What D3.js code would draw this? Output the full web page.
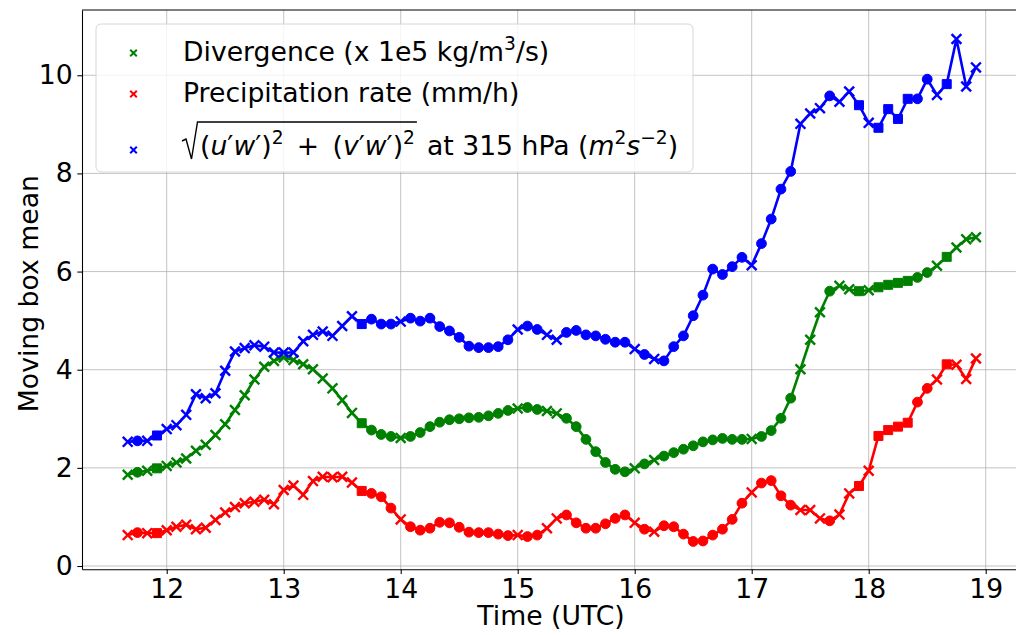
<!DOCTYPE html>
<html>
<head>
<meta charset="utf-8">
<script src="https://cdn.jsdelivr.net/npm/d3@7"></script>
<style>
  html, body { margin: 0; padding: 0; background: #fff; }
  svg { display: block; font-family: "DejaVu Sans", sans-serif; }
</style>
</head>
<body>
<svg id="chart" width="1016" height="635"></svg>
<script>
// ---------------- data ----------------
const times = ["11:40","11:45","11:50","11:55","12:00","12:05","12:10","12:15","12:20","12:25","12:30","12:35",
"12:40","12:45","12:50","12:55","13:00","13:05","13:10","13:15","13:20","13:25","13:30","13:35",
"13:40","13:45","13:50","13:55","14:00","14:05","14:10","14:15","14:20","14:25","14:30","14:35",
"14:40","14:45","14:50","14:55","15:00","15:05","15:10","15:15","15:20","15:25","15:30","15:35",
"15:40","15:45","15:50","15:55","16:00","16:05","16:10","16:15","16:20","16:25","16:30","16:35",
"16:40","16:45","16:50","16:55","17:00","17:05","17:10","17:15","17:20","17:25","17:30","17:35",
"17:40","17:45","17:50","17:55","18:00","18:05","18:10","18:15","18:20","18:25","18:30","18:35",
"18:40","18:45","18:50","18:55"];

const markerTypes = ["x","o","x","s","x","x","x","x","x","x","x","x","x","x","x","x","x","x","x","x","x","x","x","x",
"s","o","o","o","x","o","o","o","o","o","o","o","o","o","o","o","x","o","o","x","x",
"o","o","o","o","o","o","o","x","o","x","o","o","o","o","o","o","o","o","o","x",
"o","o","o","o","x","x","x","o","x","x","s","x","s","s","s","s","o","o","x","s","x","x","x"];

const divergence = [1.86,1.91,1.94,1.99,2.04,2.11,2.19,2.35,2.47,2.67,2.89,3.18,3.48,3.80,4.06,4.18,4.25,4.20,4.11,4.01,
3.82,3.62,3.38,3.12,2.91,2.77,2.68,2.64,2.61,2.64,2.72,2.84,2.93,2.98,3.00,3.02,3.03,3.06,3.11,3.17,
3.21,3.23,3.19,3.16,3.11,3.01,2.84,2.58,2.33,2.11,1.97,1.92,1.99,2.08,2.16,2.24,2.31,2.38,2.45,2.53,
2.57,2.60,2.58,2.58,2.59,2.64,2.76,3.01,3.42,4.01,4.61,5.17,5.60,5.71,5.64,5.60,5.62,5.68,5.73,5.77,
5.81,5.88,5.98,6.12,6.30,6.49,6.66,6.70];

const precipitation = [0.63,0.68,0.67,0.67,0.73,0.80,0.84,0.75,0.78,0.94,1.09,1.20,1.28,1.31,1.35,1.26,1.55,1.64,1.45,1.73,
1.82,1.81,1.82,1.70,1.53,1.48,1.41,1.18,0.95,0.80,0.73,0.77,0.89,0.88,0.79,0.69,0.68,0.68,0.65,0.62,
0.63,0.60,0.63,0.77,0.97,1.04,0.88,0.77,0.77,0.86,0.97,1.04,0.88,0.75,0.70,0.82,0.80,0.65,0.50,0.51,
0.63,0.75,0.95,1.28,1.50,1.69,1.74,1.43,1.24,1.14,1.14,0.97,0.92,1.05,1.48,1.63,1.94,2.65,2.77,2.84,
2.92,3.34,3.62,3.80,4.11,4.10,3.81,4.23];

const momentumFlux = [2.53,2.55,2.55,2.66,2.79,2.87,3.08,3.50,3.42,3.52,3.98,4.37,4.44,4.50,4.47,4.35,4.35,4.35,4.58,4.71,
4.78,4.69,4.89,5.09,4.93,5.03,4.93,4.93,4.98,5.05,4.99,5.05,4.88,4.79,4.66,4.48,4.45,4.45,4.47,4.61,
4.82,4.89,4.82,4.71,4.61,4.76,4.80,4.71,4.69,4.62,4.56,4.56,4.42,4.31,4.22,4.18,4.47,4.69,5.10,5.52,
6.05,5.94,6.10,6.29,6.13,6.57,7.07,7.68,8.04,9.01,9.22,9.33,9.58,9.46,9.67,9.39,9.03,8.93,9.31,9.11,
9.52,9.52,9.92,9.60,9.82,10.74,9.77,10.16];

const xTicks = [12,13,14,15,16,17,18,19];
const yTicks = [0,2,4,6,8,10];
const seriesColors = ["green","red","blue"];

// ---------------- layout ----------------
const W = 1016, H = 635;
const margin = {left: 82, top: 10, right: -4, bottom: 65.7};
const pw = W - margin.left - margin.right;
const ph = H - margin.top - margin.bottom;
const FS = 26.67;

const svg = d3.select("#chart");
const hours = times.map(t => { const [h, m] = t.split(":").map(Number); return h + m / 60; });

const x = d3.scaleLinear().domain([11.276, 11.276 + pw / 117]).range([margin.left, margin.left + pw]);
const y = d3.scaleLinear().domain([-0.067, 11.33]).range([margin.top + ph, margin.top]);

// grid
const grid = svg.append("g");
grid.selectAll("line.gx").data(xTicks).join("line")
  .attr("x1", d => x(d)).attr("x2", d => x(d))
  .attr("y1", margin.top).attr("y2", margin.top + ph)
  .attr("stroke", "#b0b0b0").attr("stroke-width", 1).attr("opacity", 0.75);
grid.selectAll("line.gy").data(yTicks).join("line")
  .attr("x1", margin.left).attr("x2", margin.left + pw)
  .attr("y1", d => y(d)).attr("y2", d => y(d))
  .attr("stroke", "#b0b0b0").attr("stroke-width", 1).attr("opacity", 0.75);

// axes
const xAxis = d3.axisBottom(x).tickValues(xTicks).tickFormat(d3.format("d")).tickSizeInner(4.7).tickSizeOuter(0).tickPadding(4.7);
const yAxis = d3.axisLeft(y).tickValues(yTicks).tickFormat(d3.format("d")).tickSizeInner(4.7).tickSizeOuter(0).tickPadding(4.7);
const gx = svg.append("g").attr("transform", `translate(0,${margin.top + ph})`).call(xAxis);
const gy = svg.append("g").attr("transform", `translate(${margin.left},0)`).call(yAxis);
[gx, gy].forEach(g => {
  g.selectAll("text").attr("font-size", FS).attr("font-family", "DejaVu Sans").attr("fill", "#000");
  g.selectAll("line").attr("stroke", "#000").attr("stroke-width", 1.07);
  g.select(".domain").attr("stroke", "#000").attr("stroke-width", 1.07);
});
gx.selectAll("text").attr("dy", "0.74em");
// top spine
svg.append("line").attr("x1", margin.left).attr("x2", margin.left + pw)
  .attr("y1", margin.top).attr("y2", margin.top).attr("stroke", "#000").attr("stroke-width", 1.07);

// axis labels
svg.append("text").attr("x", 551).attr("y", 625).attr("text-anchor", "middle")
  .attr("font-size", FS).text("Time (UTC)");
svg.append("text").attr("transform", `translate(38,${margin.top + ph / 2 + 4}) rotate(-90)`)
  .attr("text-anchor", "middle").attr("font-size", FS).text("Moving box mean");

// series
const allSeries = [divergence, precipitation, momentumFlux];
const line = d3.line().x((d, i) => x(hours[i])).y(d => y(d));
const r = 4.9;
function markerPath(t) {
  if (t === "x") return `M${-r},${-r}L${r},${r}M${-r},${r}L${r},${-r}`;
  if (t === "s") { const s = 4.5; return `M${-s},${-s}H${s}V${s}H${-s}Z`; }
  return `M${r},0A${r},${r} 0 1,1 ${-r},0A${r},${r} 0 1,1 ${r},0Z`;
}
allSeries.forEach((vals, k) => {
  const c = seriesColors[k];
  const g = svg.append("g");
  g.append("path").attr("d", line(vals)).attr("fill", "none")
    .attr("stroke", c).attr("stroke-width", 2.6).attr("stroke-linejoin", "round");
  g.selectAll("path.m").data(vals).join("path").attr("class", "m")
    .attr("transform", (d, i) => `translate(${x(hours[i])},${y(d)})`)
    .attr("d", (d, i) => markerPath(markerTypes[i]))
    .attr("fill", (d, i) => markerTypes[i] === "x" ? "none" : c)
    .attr("stroke", c)
    .attr("stroke-width", (d, i) => markerTypes[i] === "x" ? 2.4 : 1);
});

// legend
const lg = svg.append("g");
lg.append("rect").attr("x", 96).attr("y", 24).attr("width", 597).attr("height", 148).attr("rx", 5)
  .attr("fill", "#fff").attr("fill-opacity", 0.8).attr("stroke", "#d6d6d6").attr("stroke-width", 1);
const legendY = [53, 94, 150];
const legendColors = ["green", "red", "blue"];
legendY.forEach((ly, k) => {
  const rr = 3.3;
  lg.append("path").attr("transform", `translate(133.5,${ly})`)
    .attr("d", `M${-rr},${-rr}L${rr},${rr}M${-rr},${rr}L${rr},${-rr}`)
    .attr("stroke", legendColors[k]).attr("stroke-width", 2).attr("fill", "none");
});
const t1 = lg.append("text").attr("x", 183).attr("y", 61).attr("font-size", FS);
t1.append("tspan").text("Divergence (x 1e5 kg/m");
t1.append("tspan").attr("font-size", FS * 0.7).attr("dy", -11).text("3");
t1.append("tspan").attr("dy", 11).text("/s)");
lg.append("text").attr("x", 183).attr("y", 102).attr("font-size", FS).text("Precipitation rate (mm/h)");

// sqrt legend entry
const t3 = lg.append("text").attr("x", 200).attr("y", 155).attr("font-size", FS);
const sup = FS * 0.7;
t3.append("tspan").text("(");
t3.append("tspan").attr("font-style", "italic").text("u");
t3.append("tspan").text("′");
t3.append("tspan").attr("font-style", "italic").text("w");
t3.append("tspan").text("′)");
t3.append("tspan").attr("font-size", sup).attr("dy", -11).text("2");
t3.append("tspan").attr("dy", 11).text("\u2002+\u2002(");
t3.append("tspan").attr("font-style", "italic").text("v");
t3.append("tspan").text("′");
t3.append("tspan").attr("font-style", "italic").text("w");
t3.append("tspan").text("′)");
t3.append("tspan").attr("font-size", sup).attr("dy", -11).text("2");
const w1 = t3.node().getComputedTextLength();
const barEnd = 200 + w1 + 2;
lg.append("path").attr("d", `M182,141L186,139L191.5,159L197.5,122H${barEnd}`)
  .attr("fill", "none").attr("stroke", "#000").attr("stroke-width", 1.4).attr("stroke-linejoin", "miter");
const t4 = lg.append("text").attr("x", barEnd + 10).attr("y", 155).attr("font-size", FS);
t4.append("tspan").text("at 315 hPa (");
t4.append("tspan").attr("font-style", "italic").text("m");
t4.append("tspan").attr("font-size", sup).attr("dy", -11).text("2");
t4.append("tspan").attr("dy", 11).attr("font-style", "italic").text("s");
t4.append("tspan").attr("font-size", sup).attr("dy", -11).text("−2");
t4.append("tspan").attr("dy", 11).text(")");
</script>
</body>
</html>
